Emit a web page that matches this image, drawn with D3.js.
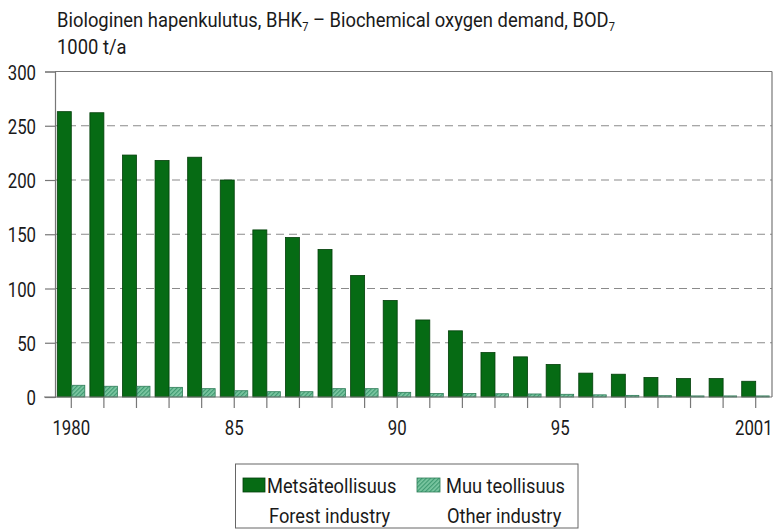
<!DOCTYPE html>
<html>
<head>
<meta charset="utf-8">
<script src="https://cdn.jsdelivr.net/npm/d3@7"></script>
<style>
  html, body { margin: 0; padding: 0; background: #fff; }
  svg { display: block; }
  text { font-family: "Roboto", "Liberation Sans", sans-serif; fill: #1a1a1a; }
</style>
</head>
<body>
<svg id="chart" width="777" height="530"></svg>
<script>
const years = d3.range(1980, 2002);
const forest = [263, 262, 223, 218, 221, 200, 154, 147, 136, 112, 89, 71, 61, 41, 37, 30, 22, 21, 18, 17, 17, 14.5];
const other  = [10.8, 9.9, 9.9, 8.9, 7.7, 5.8, 4.9, 4.9, 7.7, 7.7, 4.3, 3.2, 3.2, 3, 2.8, 2.5, 2, 1.5, 1.2, 1, 1, 1];
const yTicks = [0, 50, 100, 150, 200, 250, 300];
const xLabels = {1980: "1980", 1985: "85", 1990: "90", 1995: "95", 2001: "2001"};
const seriesNames = [["Metsäteollisuus", "Forest industry"], ["Muu teollisuus", "Other industry"]];

const SX = 0.8;   // horizontal condensing of the axis font
const SXT = 0.92; // title
const SXL = 0.87; // legend
const svg = d3.select("#chart");
const L = 55, R = 772, T = 71.5, B = 397;

const x = d3.scaleBand().domain(years).range([L, R]).padding(0);
const y = d3.scaleLinear().domain([0, 300]).range([B, T]);

function ctext(g, px, py, size, str, sx) {
  return g.append("text")
    .attr("transform", `translate(${px},${py}) scale(${sx},1)`)
    .style("font-size", size + "px").text(str);
}

// pattern for other industry
const defs = svg.append("defs");
const pat = defs.append("pattern").attr("id", "hatch").attr("patternUnits", "userSpaceOnUse")
  .attr("width", 3).attr("height", 3).attr("patternTransform", "rotate(45)");
pat.append("rect").attr("width", 3).attr("height", 3).attr("fill", "#7cc7a2");
pat.append("rect").attr("width", 1.2).attr("height", 3).attr("fill", "#3f9a72");

// Titles
const t1 = svg.append("text").attr("transform", `translate(57,27) scale(${SXT},1)`).style("font-size", "20px");
t1.append("tspan").text("Biologinen hapenkulutus, BHK");
t1.append("tspan").attr("dy", 4).style("font-size", "12px").text("7");
t1.append("tspan").attr("dy", -4).text(" – Biochemical oxygen demand, BOD");
t1.append("tspan").attr("dy", 4).style("font-size", "12px").text("7");
ctext(svg, 57, 54, 20, "1000 t/a", SXT);

// gridlines (dashed)
svg.append("g").selectAll("line").data(yTicks.filter(v => v > 0 && v < 300)).join("line")
  .attr("x1", L).attr("x2", R).attr("y1", d => y(d)).attr("y2", d => y(d))
  .attr("stroke", "#8a8a8a").attr("stroke-width", 1.2).attr("stroke-dasharray", "8,5");

// top and right border
svg.append("line").attr("x1", L).attr("x2", R).attr("y1", y(300)).attr("y2", y(300))
  .attr("stroke", "#777").attr("stroke-width", 1.2);
svg.append("line").attr("x1", R).attr("x2", R).attr("y1", y(300)).attr("y2", B)
  .attr("stroke", "#777").attr("stroke-width", 1.2);

// Y axis
const yAxis = d3.axisLeft(y).tickValues(yTicks).tickSize(10).tickPadding(8).tickFormat(d3.format("d"));
const gy = svg.append("g").attr("transform", `translate(${L},0)`).call(yAxis);
gy.select(".domain").attr("stroke", "#777").attr("stroke-width", 1.2);
gy.selectAll(".tick line").attr("stroke", "#777").attr("stroke-width", 1.2);
gy.selectAll(".tick text").style("font-size", "21px").attr("fill", "#1a1a1a")
  .attr("font-family", null).attr("dy", "0.36em")
  .attr("x", -19 / SX).attr("transform", `scale(${SX},1)`);

// bars
const bw = 14;
svg.append("g").selectAll("rect").data(years).join("rect")
  .attr("x", d => x(d) + x.bandwidth() / 2 - bw)
  .attr("width", bw)
  .attr("y", (d, i) => y(forest[i]))
  .attr("height", (d, i) => B - y(forest[i]))
  .attr("fill", "#066b14").attr("stroke", "#033f0a").attr("stroke-width", 0.8);
svg.append("g").selectAll("rect").data(years).join("rect")
  .attr("x", d => x(d) + x.bandwidth() / 2 + 0.5)
  .attr("width", bw - 1)
  .attr("y", (d, i) => y(other[i]))
  .attr("height", (d, i) => B - y(other[i]))
  .attr("fill", "url(#hatch)").attr("stroke", "#2f7d58").attr("stroke-width", 0.8);

// X axis
const xAxis = d3.axisBottom(x).tickSize(11).tickPadding(12).tickFormat(d => xLabels[d] || "");
const gx = svg.append("g").attr("transform", `translate(0,${B})`).call(xAxis);
gx.select(".domain").remove();
gx.selectAll(".tick line").attr("stroke", "#777").attr("stroke-width", 1.2);
gx.selectAll(".tick text").style("font-size", "21px").attr("fill", "#1a1a1a").attr("font-family", null)
  .attr("transform", `scale(${SX},1)`);
gx.selectAll(".tick").filter(d => d === 2001).select("text").attr("text-anchor", "end").attr("x", 17 / SX);
svg.append("line").attr("x1", 44).attr("x2", R).attr("y1", B).attr("y2", B)
  .attr("stroke", "#777").attr("stroke-width", 1.2);

// Legend
const lg = svg.append("g");
lg.append("rect").attr("x", 235.5).attr("y", 464).attr("width", 342.5).attr("height", 64)
  .attr("fill", "#fff").attr("stroke", "#666").attr("stroke-width", 1);
lg.append("rect").attr("x", 243).attr("y", 478).attr("width", 22).attr("height", 14)
  .attr("fill", "#066b14").attr("stroke", "#033f0a").attr("stroke-width", 0.8);
lg.append("rect").attr("x", 417).attr("y", 478).attr("width", 23).attr("height", 14)
  .attr("fill", "url(#hatch)").attr("stroke", "#2f7d58").attr("stroke-width", 0.8);
ctext(lg, 267, 493, 21, seriesNames[0][0], SXL);
ctext(lg, 269, 523, 21, seriesNames[0][1], SXL);
ctext(lg, 446, 493, 21, seriesNames[1][0], SXL);
ctext(lg, 447, 523, 21, seriesNames[1][1], SXL);
</script>
</body>
</html>
